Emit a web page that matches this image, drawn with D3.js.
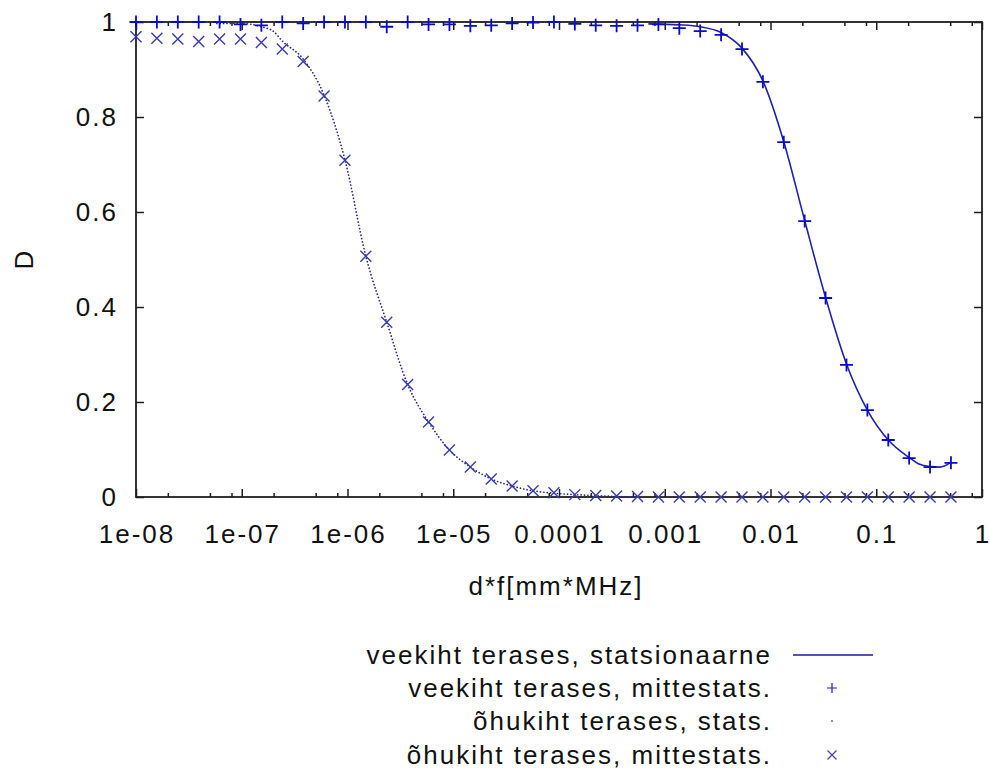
<!DOCTYPE html>
<html>
<head>
<meta charset="utf-8">
<script src="https://cdn.jsdelivr.net/npm/d3@7"></script>
<style>
  html, body { margin: 0; padding: 0; background: #fff; }
  svg { display: block; }
  text { font-family: "Liberation Sans", Arial, sans-serif; font-size: 26px; letter-spacing: 2px; fill: #111; }
</style>
</head>
<body>
<svg id="chart" width="990" height="773"></svg>
<script>
// ---------- data ----------
const xVals = [1.000e-8, 1.576e-8, 2.485e-8, 3.915e-8, 6.170e-8, 9.727e-8, 1.533e-7, 2.416e-7,
  3.809e-7, 6.003e-7, 9.462e-7, 1.491e-6, 2.350e-6, 3.705e-6, 5.840e-6, 9.204e-6, 1.451e-5,
  2.287e-5, 3.604e-5, 5.681e-5, 8.954e-5, 1.411e-4, 2.225e-4, 3.506e-4, 5.526e-4, 8.710e-4,
  1.373e-3, 2.164e-3, 3.411e-3, 5.376e-3, 8.472e-3, 1.335e-2, 2.105e-2, 3.318e-2, 5.230e-2,
  8.241e-2, 0.1299, 0.2047, 0.3227, 0.5086];

// veekiht terases, mittestats. (+)
const plusY = [1.000, 1.000, 1.000, 1.000, 1.000, 0.995, 0.993, 1.000, 0.997, 1.000, 1.000,
  1.000, 0.990, 1.000, 0.995, 0.995, 0.992, 0.993, 0.997, 0.999, 1.000, 0.996, 0.993, 0.992,
  0.993, 0.995, 0.987, 0.981, 0.973, 0.943, 0.874, 0.747, 0.581, 0.419, 0.278, 0.183, 0.120,
  0.082, 0.063, 0.072];

// õhukiht terases, mittestats. (x)
const crossY = [0.969, 0.966, 0.964, 0.959, 0.964, 0.964, 0.957, 0.943, 0.917, 0.844, 0.709,
  0.507, 0.368, 0.237, 0.158, 0.099, 0.063, 0.038, 0.023, 0.013, 0.009, 0.005, 0.003, 0.002,
  0.001, 0.000, 0.000, 0.000, 0.000, 0.000, 0.000, 0.000, 0.000, 0.000, 0.000, 0.000, 0.000,
  0.000, 0.000, 0.000];

// veekiht terases, statsionaarne (solid line)
const solidX = [7.0e-4, 1.373e-3, 2.164e-3, 3.411e-3, 5.376e-3, 8.472e-3, 1.335e-2, 2.105e-2,
  3.318e-2, 5.230e-2, 8.241e-2, 0.1299, 0.2047, 0.25, 0.3227, 0.40, 0.5086];
const solidY = [0.996, 0.994, 0.990, 0.978, 0.945, 0.876, 0.748, 0.582, 0.420, 0.280, 0.183,
  0.120, 0.083, 0.070, 0.064, 0.063, 0.073];

// õhukiht terases, stats. (dots)
const dotX = [5.8e-8, 9.727e-8, 1.533e-7, 2.0e-7, 2.416e-7, 3.809e-7, 6.003e-7, 9.462e-7,
  1.491e-6, 2.350e-6, 3.705e-6, 5.840e-6, 9.204e-6, 1.451e-5, 2.287e-5, 3.604e-5, 5.681e-5,
  8.954e-5, 1.411e-4, 2.225e-4, 3.506e-4, 5.526e-4];
const dotY = [0.997, 0.997, 0.990, 0.980, 0.960, 0.922, 0.846, 0.710, 0.507, 0.368, 0.237,
  0.158, 0.099, 0.063, 0.038, 0.023, 0.013, 0.008, 0.005, 0.003, 0.001, 0.000];

const xTickVals = [1e-8, 1e-7, 1e-6, 1e-5, 1e-4, 1e-3, 1e-2, 1e-1, 1];
const xTickLabels = ["1e-08", "1e-07", "1e-06", "1e-05", "0.0001", "0.001", "0.01", "0.1", "1"];
const xMinorMult = [2, 5, 8];
const yTickVals = [0, 0.2, 0.4, 0.6, 0.8, 1];
const yTickLabels = ["0", "0.2", "0.4", "0.6", "0.8", "1"];
const xTitle = "d*f[mm*MHz]";
const yTitle = "D";
const legendLabels = ["veekiht terases, statsionaarne", "veekiht terases, mittestats.",
  "õhukiht terases, stats.", "õhukiht terases, mittestats."];

// ---------- layout ----------
const L = 136, R = 982, T = 22, B = 497;
const svg = d3.select("#chart");
const x = d3.scaleLog().domain([1e-8, 1]).range([L, R]);
const y = d3.scaleLinear().domain([0, 1]).range([B, T]);

const frameColor = "#1e1e1e";
const lineColor = "#1f22b0";
const plusColor = "#0a0ac8";
const crossColor = "#3a3ab4";
const dotColor = "#2a2a88";

// minor tick values
const xMinor = [];
xTickVals.slice(0, -1).forEach(v => xMinorMult.forEach(m => xMinor.push(v * m)));

function styleAxis(g) {
  g.select(".domain").remove();
  g.selectAll(".tick line").attr("stroke", frameColor).attr("stroke-width", 1.5);
  g.selectAll(".tick text").remove();
}
// major/minor ticks, mirrored, pointing inward
svg.append("g").attr("transform", `translate(0,${B})`)
  .call(d3.axisBottom(x).tickValues(xTickVals).tickSize(-8).tickFormat("")).call(styleAxis);
svg.append("g").attr("transform", `translate(0,${B})`)
  .call(d3.axisBottom(x).tickValues(xMinor).tickSize(-4).tickFormat("")).call(styleAxis);
svg.append("g").attr("transform", `translate(0,${T})`)
  .call(d3.axisTop(x).tickValues(xTickVals).tickSize(-8).tickFormat("")).call(styleAxis);
svg.append("g").attr("transform", `translate(0,${T})`)
  .call(d3.axisTop(x).tickValues(xMinor).tickSize(-4).tickFormat("")).call(styleAxis);
svg.append("g").attr("transform", `translate(${L},0)`)
  .call(d3.axisLeft(y).tickValues(yTickVals).tickSize(-8).tickFormat("")).call(styleAxis);
svg.append("g").attr("transform", `translate(${R},0)`)
  .call(d3.axisRight(y).tickValues(yTickVals).tickSize(-8).tickFormat("")).call(styleAxis);

// frame
svg.append("rect").attr("x", L).attr("y", T).attr("width", R - L).attr("height", B - T)
  .attr("fill", "none").attr("stroke", frameColor).attr("stroke-width", 1.8);

// tick labels
svg.append("g").selectAll("text").data(xTickVals).join("text")
  .attr("x", d => x(d) + 1).attr("y", 543).attr("text-anchor", "middle")
  .text((d, i) => xTickLabels[i]);
svg.append("g").selectAll("text").data(yTickVals).join("text")
  .attr("x", 118).attr("y", d => y(d)).attr("dy", "0.35em").attr("text-anchor", "end")
  .text((d, i) => yTickLabels[i]);

// axis titles
svg.append("text").attr("x", 556).attr("y", 595).attr("text-anchor", "middle").text(xTitle);
svg.append("text").attr("transform", "translate(33,259) rotate(-90)")
  .attr("text-anchor", "middle").text(yTitle);

// curves
const solidData = solidX.map((v, i) => [v, solidY[i]]);
const dotData = dotX.map((v, i) => [v, dotY[i]]);
const lineGen = d3.line().x(d => x(d[0])).y(d => y(d[1])).curve(d3.curveMonotoneX);

svg.append("path").datum(dotData).attr("d", lineGen).attr("fill", "none")
  .attr("stroke", dotColor).attr("stroke-width", 1.7).attr("stroke-linecap", "round")
  .attr("stroke-dasharray", "0.1 3.3");
svg.append("path").datum(solidData).attr("d", lineGen).attr("fill", "none")
  .attr("stroke", lineColor).attr("stroke-width", 1.6);

// markers
const plusPath = s => `M${-s},0H${s}M0,${-s}V${s}`;
const crossPath = s => `M${-s},${-s}L${s},${s}M${-s},${s}L${s},${-s}`;
const plusData = xVals.map((v, i) => [v, plusY[i]]);
const crossData = xVals.map((v, i) => [v, crossY[i]]);

svg.append("g").selectAll("path").data(crossData).join("path")
  .attr("transform", d => `translate(${x(d[0])},${y(d[1])})`)
  .attr("d", crossPath(5.5)).attr("stroke", crossColor).attr("stroke-width", 1.4).attr("fill", "none");
svg.append("g").selectAll("path").data(plusData).join("path")
  .attr("transform", d => `translate(${x(d[0])},${y(d[1])})`)
  .attr("d", plusPath(6.5)).attr("stroke", plusColor).attr("stroke-width", 1.8).attr("fill", "none");

// legend
const legY = [664, 697, 730, 764];
const leg = svg.append("g");
leg.selectAll("text").data(legendLabels).join("text")
  .attr("x", 772).attr("y", (d, i) => legY[i]).attr("text-anchor", "end").text(d => d);
leg.append("line").attr("x1", 793).attr("x2", 873).attr("y1", legY[0] - 9).attr("y2", legY[0] - 9)
  .attr("stroke", "#1a1a9a").attr("stroke-width", 1.6);
leg.append("path").attr("transform", `translate(832,${legY[1] - 9})`).attr("d", plusPath(5))
  .attr("stroke", "#2020c8").attr("stroke-width", 1.2).attr("fill", "none");
leg.append("circle").attr("cx", 832).attr("cy", legY[2] - 9).attr("r", 0.9).attr("fill", "#555577");
leg.append("path").attr("transform", `translate(832,${legY[3] - 9})`).attr("d", crossPath(4.5))
  .attr("stroke", "#4040b8").attr("stroke-width", 1.2).attr("fill", "none");
</script>
</body>
</html>
